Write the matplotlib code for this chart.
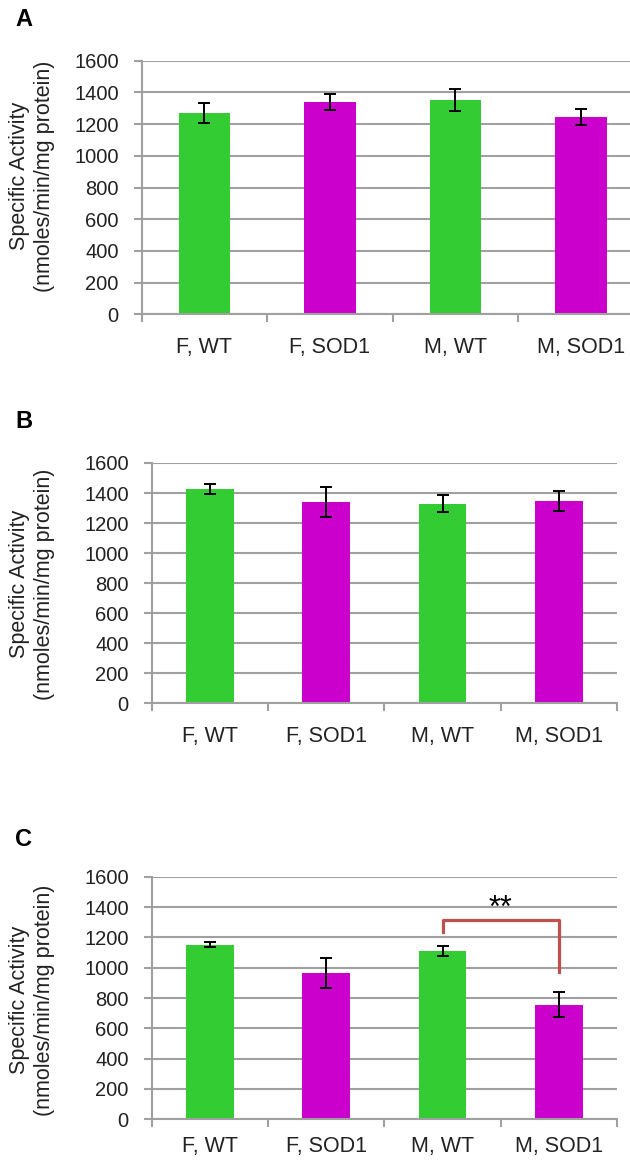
import matplotlib
matplotlib.use('Agg')
import matplotlib.pyplot as plt

plt.rcParams['font.family'] = ['Liberation Sans', 'DejaVu Sans']

grupos = ['F, WT', 'F, SOD1', 'M, WT', 'M, SOD1']
cores = ['#33CC33', '#CC00CC', '#33CC33', '#CC00CC']

# valores (media e erro)
atividade_a = [1268, 1340, 1350, 1245]
erro_a = [64, 53, 70, 48]
atividade_b = [1427, 1341, 1328, 1346]
erro_b = [33, 100, 57, 65]
atividade_c = [1152, 967, 1110, 756]
erro_c = [15, 100, 33, 84]

# colchete de significancia no painel C
colchete_x = [2, 2, 3, 3]
colchete_y = [1235, 1317, 1317, 973]
estrelas = '**'

W, H = 630, 1160
fig = plt.figure(figsize=(W / 100, H / 100), dpi=100)

cinza = '#A0A0A0'
rotulo_y = 'Specific Activity\n(nmoles/min/mg protein)'


def painel(pos, valores, erros, letra, letra_xy, rotulo_xy, pad_x=16):
    ax = fig.add_axes(pos)
    x = range(len(grupos))
    ax.bar(x, valores, width=0.41, color=cores, edgecolor='none', zorder=3)
    ax.errorbar(x, valores, yerr=erros, fmt='none', ecolor='black',
                elinewidth=1.4, capsize=4, capthick=1.4, zorder=4)
    ax.set_xlim(-0.5, 3.5)
    ax.set_ylim(0, 1600)
    ax.set_yticks(range(0, 1601, 200))
    ax.yaxis.grid(True, color=cinza, linewidth=1.5, zorder=0)
    ax.set_xticks(list(x))
    ax.set_xticklabels(grupos)
    ax.set_xticks([-0.5, 0.5, 1.5, 2.5, 3.5], minor=True)
    ax.tick_params(axis='x', which='major', length=0, pad=pad_x, labelsize=15.5,
                   colors='#222222')
    ax.tick_params(axis='x', which='minor', length=5.5, width=1.5,
                   color=cinza, direction='out')
    ax.tick_params(axis='y', length=5.5, width=1.5, color=cinza, pad=11,
                   labelsize=14.5, labelcolor='#222222')
    for lado in ['top', 'right']:
        ax.spines[lado].set_visible(False)
    ax.spines['left'].set_color(cinza)
    ax.spines['left'].set_linewidth(1.5)
    ax.spines['bottom'].set_color(cinza)
    ax.spines['bottom'].set_linewidth(1.5)
    ax.spines['bottom'].set_zorder(5)
    fig.text(letra_xy[0] / W, 1 - letra_xy[1] / H, letra, fontsize=17,
             fontweight='bold', ha='center', va='center')
    fig.text(rotulo_xy[0] / W, 1 - rotulo_xy[1] / H, rotulo_y, fontsize=15.5,
             rotation=90, ha='center', va='center', multialignment='center',
             color='#222222', linespacing=1.25)
    return ax


painel([141.7 / W, 1 - 314.3 / H, 502 / W, 253.6 / H],
       atividade_a, erro_a, 'A', (24, 20), (32, 176))
painel([151.7 / W, 1 - 703.3 / H, 465.3 / W, 240.3 / H],
       atividade_b, erro_b, 'B', (23.5, 422), (32, 584))
ax_c = painel([151.7 / W, 1 - 1119.3 / H, 465.3 / W, 242.6 / H],
              atividade_c, erro_c, 'C', (23.5, 839.5), (32, 1000), pad_x=12)

ax_c.plot(colchete_x, colchete_y, color='#C0504D', linewidth=2.3, zorder=5)
ax_c.text(2.5, 1390, estrelas, fontsize=22, ha='center', va='center', zorder=6)

fig.savefig('out.png', dpi=100)
